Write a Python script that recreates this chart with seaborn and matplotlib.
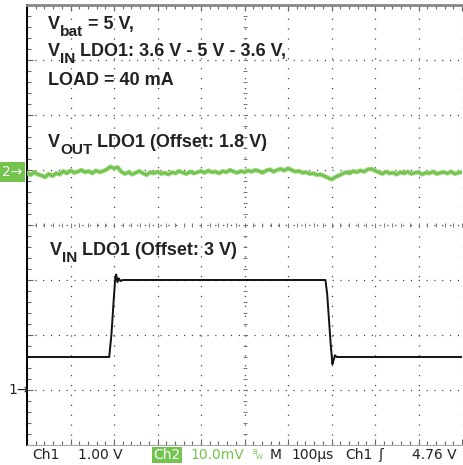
import numpy as np
import pandas as pd
import seaborn as sns
import matplotlib.pyplot as plt

# ---- data read from the scope capture ----
# Ch1: V_IN LDO1 step, 1 V/div, offset 3 V (time in us, volts)
ch1_t = [-500, -311, -306, -301, -297, -295, -292, -289, -285, -280, 186, 190, 194, 198, 202, 205, 208, 212, 500]
ch1_v = [3.6, 3.6, 4.0, 4.6, 5.05, 5.1, 4.96, 5.03, 4.98, 5.0, 5.0, 4.75, 4.3, 3.85, 3.47, 3.55, 3.63, 3.6, 3.6]

# Ch2: V_OUT LDO1 ripple, 10 mV/div, AC deviation in mV, 121 samples over 1 ms
ch2_mv = [
    -0.5, -0.9, -0.4, -0.8, -1.0, -1.3, -0.7, -1.1, -0.6, -0.8,
    -0.2, -0.6, -0.1, -0.5, -0.3, 0.0, -0.4, -0.2, -0.6, -0.1, -0.4, -0.2, 0.1,
    0.6, 0.3, 0.5,
    -0.3, -0.7, -0.4, -0.8, -0.5, -0.2, -0.6, -0.9, -0.4, -0.6, -0.3, -0.7, -0.5, -0.8,
    -0.4, -0.6, -0.2, -0.5, -0.7, -0.3, -0.6, -0.4,
    -0.2, -0.5, -0.1, -0.4, -0.3, -0.6, -0.2, -0.4, 0.0, -0.3, -0.5, -0.2,
    -0.4, -0.1, -0.3, 0.0, -0.2, -0.5, -0.1, 0.1, -0.3, 0.0, 0.2, -0.1, 0.3,
    0.0, -0.3, -0.2, -0.5, -0.4, -0.7, -0.6, -0.9, -0.8, -1.1,
    -1.4, -1.7, -1.3, -1.0,
    -0.7, -0.4, -0.6, -0.2, -0.4, -0.1, -0.3, 0.1, 0.2, -0.1,
    -0.4, -0.7, -0.3, -0.6, -0.5, -0.8, -0.4, -0.6, -0.3, -0.7, -0.5, -0.4,
    -0.8, -0.5, -0.6, -0.3, -0.7, -0.5, -0.4, -0.6, -0.3, -0.7, -0.5, -0.4,
]
ch2_t = np.linspace(-500, 500, len(ch2_mv))

ch1_offset, ch1_scale, ch1_ref = 3.0, 1.0, -3   # V, V/div, marker division
ch2_scale, ch2_ref = 10.0, 1                    # mV/div, marker division

green = '#72c44c'
W, H = 463, 465

sns.set_style('white')
plt.rcParams['font.family'] = ['Liberation Sans', 'DejaVu Sans']

fig = plt.figure(figsize=(W / 100, H / 100), dpi=100)
ax = fig.add_axes([27 / W, 20 / H, 435 / W, 440 / H])

df1 = pd.DataFrame({'t': ch1_t, 'div': [ch1_ref + (v - ch1_offset) / ch1_scale for v in ch1_v]})
df2 = pd.DataFrame({'t': ch2_t, 'div': [ch2_ref + m / ch2_scale for m in ch2_mv]})

sns.lineplot(data=df2, x='t', y='div', color='#9fd884', lw=3.2, ax=ax, zorder=3)
sns.lineplot(data=df2, x='t', y='div', color=green, lw=1.8, ax=ax, zorder=3)
sns.lineplot(data=df1, x='t', y='div', color='#111111', lw=1.4, ax=ax, zorder=4)

ax.set_xlim(-500, 500)
ax.set_ylim(-4, 4)
ax.set_xticks(np.arange(-500, 501, 100))
ax.set_yticks(np.arange(-4, 5, 1))
ax.set_xticks(np.arange(-500, 501, 20), minor=True)
ax.set_yticks(np.arange(-4, 4.01, 0.2), minor=True)
ax.set_xlabel('')
ax.set_ylabel('')
ax.set_xticklabels([])
ax.set_yticklabels([])

# dotted graticule
ax.xaxis.grid(True, which='major', color='#333333', lw=0.9, linestyle=(0, (0.9, 7.02)))
ax.yaxis.grid(True, which='major', color='#333333', lw=0.9, linestyle=(0, (0.9, 5.36)))
ax.tick_params(which='both', direction='in', bottom=True, top=True, left=True, right=False,
               color='#666666', width=0.8)
ax.tick_params(which='major', length=4)
ax.tick_params(which='minor', length=3)

# center cross minor ticks
ax.plot(np.zeros(41), np.arange(-4, 4.01, 0.2), ls='none', marker='_', ms=3, mew=0.7, color='#777777')
ax.plot(np.arange(-500, 501, 20), np.zeros(51), ls='none', marker='|', ms=3, mew=0.7, color='#777777')

ax.spines['right'].set_visible(False)
ax.spines['left'].set_color('black')
ax.spines['left'].set_linewidth(1.4)
ax.spines['top'].set_color('#888888')
ax.spines['top'].set_linewidth(2)
ax.spines['bottom'].set_color('#aaaaaa')
ax.spines['bottom'].set_linewidth(0.8)


def fy(y):
    return 1 - y / H


def fx(x):
    return x / W


renderer = fig.canvas.get_renderer()


def label(x, y, parts, size=13):
    # parts: list of (text, is_subscript); x, y in pixels from top-left, y = baseline
    for s, is_sub in parts:
        t = fig.text(fx(x), fy(y + (7 if is_sub else 0)), s, fontsize=size * (0.85 if is_sub else 1),
                     fontweight='bold', color='#222222', va='baseline', ha='left')
        x += t.get_window_extent(renderer).width


label(48, 29, [('V', False), ('bat', True), (' = 5 V,', False)])
label(48, 56, [('V', False), ('IN', True), (' LDO1: 3.6 V - 5 V - 3.6 V,', False)])
label(48, 85, [('LOAD = 40 mA', False)])
label(48, 147, [('V', False), ('OUT', True), (' LDO1 (Offset: 1.8 V)', False)])
label(50, 255, [('V', False), ('IN', True), (' LDO1 (Offset: 3 V)', False)])

# channel markers
fig.text(fx(2), fy(172), '2\u2192', fontsize=10, color='white', va='center', ha='left',
         family='DejaVu Sans', bbox=dict(boxstyle='square,pad=0.22', fc=green, ec='none'))
fig.text(fx(8), fy(390), '1\u2192', fontsize=10, color='#222222', va='center', ha='left', family='DejaVu Sans')

# status line
sk = dict(fontsize=10, va='baseline', family='DejaVu Sans')
yb = fy(459)
fig.text(fx(32), yb, 'Ch1', color='#222222', **sk)
fig.text(fx(78), yb, '1.00 V', color='#222222', **sk)
fig.text(fx(153), yb, 'Ch2', color='white', bbox=dict(boxstyle='square,pad=0.1', fc=green, ec='none'), **sk)
fig.text(fx(190), yb, '10.0mV', color=green, **sk)
fig.text(fx(252), fy(454), 'B', color=green, fontsize=5, va='baseline', family='DejaVu Sans')
fig.text(fx(256), fy(459), 'W', color=green, fontsize=5, va='baseline', family='DejaVu Sans')
fig.text(fx(270), yb, 'M', color='#222222', **sk)
fig.text(fx(291), yb, '100\u00b5s', color='#222222', **sk)
fig.text(fx(345), yb, 'Ch1', color='#222222', **sk)
fig.text(fx(378), yb, '\u0283', color='#222222', **sk)
fig.text(fx(412), yb, '4.76 V', color='#222222', **sk)

fig.savefig('out.png', dpi=100)
